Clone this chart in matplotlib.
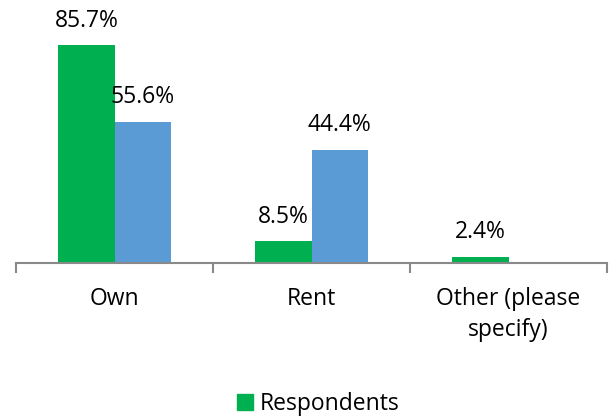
import matplotlib
matplotlib.use('Agg')
import matplotlib.pyplot as plt
from matplotlib.patches import Patch

categories = ['Own', 'Rent', 'Other (please\nspecify)']
respondents = [85.7, 8.5, 2.4]
second_series = [55.6, 44.4, 0.0]

green = '#00B050'
blue = '#5B9BD5'
axis_grey = '#898989'

plt.rcParams['font.family'] = ['Open Sans', 'DejaVu Sans']

fig = plt.figure(figsize=(6.1, 4.19), dpi=100)
ax = fig.add_axes([16 / 610, (419 - 263) / 419, (607 - 16) / 610, 254 / 419])

x = range(len(categories))
w = 0.286
ax.bar([i - w / 2 for i in x], respondents, width=w, color=green, label='Respondents')
ax.bar([i + w / 2 for i in x], second_series, width=w, color=blue)

# value labels above bars (skip zero values)
for i in x:
    for val, off in ((respondents[i], -w / 2), (second_series[i], w / 2)):
        if val > 0:
            ax.annotate('%.1f%%' % val, (i + off, val), xytext=(0, 13.5),
                        textcoords='offset points', ha='center', va='baseline',
                        fontsize=16.5, color='black')

ax.set_xlim(-0.5, len(categories) - 0.5)
ax.set_ylim(0, 100)

for s in ('top', 'right', 'left'):
    ax.spines[s].set_visible(False)
ax.spines['bottom'].set_color(axis_grey)
ax.spines['bottom'].set_linewidth(1.5)
ax.set_yticks([])

# tick marks at category boundaries, labels at category centres
ax.set_xticks([i - 0.5 for i in range(len(categories) + 1)])
ax.set_xticklabels([])
ax.tick_params(axis='x', which='major', length=7, width=1.5, color=axis_grey)
ax.set_xticks(list(x), minor=True)
ax.set_xticklabels(categories, minor=True, fontsize=16.5, linespacing=1.4)
ax.tick_params(axis='x', which='minor', length=0, pad=17)

fig.legend(handles=[Patch(color=green, label='Respondents')], loc='center',
           bbox_to_anchor=(318 / 610, 1 - 404 / 419), frameon=False,
           fontsize=16.5, handlelength=0.7, handleheight=0.7, handletextpad=0.3)

plt.savefig('out.png', dpi=100)
